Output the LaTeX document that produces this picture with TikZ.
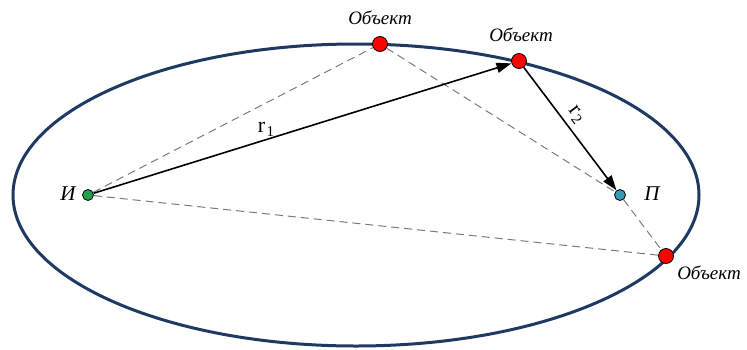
\documentclass[tikz,border=0pt]{standalone}
\usepackage{fontspec}
\setmainfont{Liberation Serif}
\usetikzlibrary{arrows.meta}
\definecolor{orbit}{HTML}{1F3A62}
\definecolor{dotred}{HTML}{FF0000}
\definecolor{dotgreen}{HTML}{1DA24A}
\definecolor{dotblue}{HTML}{3A98B2}
\definecolor{dashgray}{HTML}{7A7A7A}
\newcommand{\vsub}[1]{\kern1.5pt\raisebox{-4pt}{\fontsize{15}{15}\selectfont #1}}
\tikzset{
  reddot/.style={circle,draw=black,line width=0.8pt,fill=dotred,minimum size=15pt,inner sep=0pt},
  greendot/.style={circle,draw=black,line width=0.8pt,fill=dotgreen,minimum size=11pt,inner sep=0pt},
  bluedot/.style={circle,draw=black,line width=0.8pt,fill=dotblue,minimum size=11pt,inner sep=0pt},
  guide/.style={draw=dashgray,line width=1pt,dash pattern=on 8pt off 5pt},
  vec/.style={draw=black,line width=1.6pt,-{Triangle[length=15pt,width=10pt]}},
  lbl/.style={font=\fontsize{19}{22}\selectfont\itshape,inner sep=1pt},
  biglbl/.style={font=\fontsize{21}{24}\selectfont\itshape,inner sep=1pt},
  vlbl/.style={font=\fontsize{22}{24}\selectfont,inner sep=2pt}
}
\begin{document}
\begin{tikzpicture}[x=1pt,y=-1pt]
\useasboundingbox (0,0) rectangle (747,349);
\draw[orbit,line width=3pt] (356,195) ellipse [x radius=343pt,y radius=151pt];
\node[greendot] (i) at (88,195) {};
\node[bluedot] (p) at (620,195) {};
\node[reddot] (o1) at (380,44) {};
\node[reddot] (o2) at (519,61) {};
\node[reddot] (o3) at (666,256) {};
\draw[guide] (i) -- (o1);
\draw[guide] (o1) -- (p);
\draw[guide] (i) -- (o3);
\draw[guide] (p) -- (o3);
\draw[vec] (i) -- (o2);
\draw[vec] (o2) -- node[pos=0.45,sloped,above,vlbl,yshift=3pt] {r\vsub{2}} (p);
\node[vlbl] (r1) at (266,129) {r\vsub{1}};
\node[biglbl] (li) at (68,194) {И};
\node[biglbl] (lp) at (652,194) {П};
\node[lbl] (l1) at (380,18) {Объект};
\node[lbl] (l2) at (521,35) {Объект};
\node[lbl] (l3) at (709,273) {Объект};
\end{tikzpicture}
\end{document}
